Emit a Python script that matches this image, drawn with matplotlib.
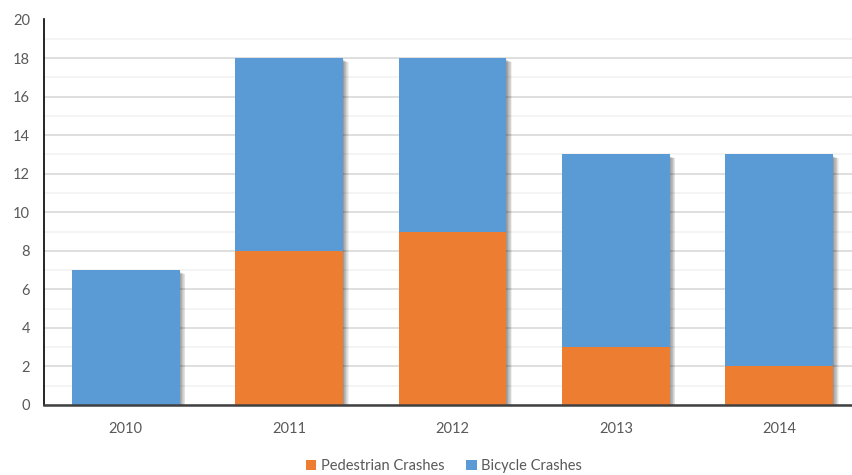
import numpy as np
import matplotlib
matplotlib.use("Agg")
import matplotlib.pyplot as plt
from matplotlib.patches import Rectangle
from matplotlib.ticker import MultipleLocator

years = ["2010", "2011", "2012", "2013", "2014"]
pedestrian = [0, 8, 9, 3, 2]
bicycle = [7, 10, 9, 10, 11]

ped_color = "#ED7D31"
bike_color = "#5B9BD5"
text_color = "#595959"

plt.rcParams["font.family"] = ["Lato", "DejaVu Sans"]

fig = plt.figure(figsize=(8.52, 4.75), dpi=100)
ax = fig.add_axes([44 / 852, 70 / 475, 808 / 852, 385.5 / 475])

x = np.arange(len(years))
width = 0.66
totals = np.array(pedestrian) + np.array(bicycle)

# soft drop shadow behind each stacked bar
for xi, top in zip(x, totals):
    for k in range(8):
        dx = 0.003 + k * 0.0045
        dy = 0.02 + k * 0.02
        ax.add_patch(Rectangle((xi - width / 2 + dx, -dy), width, top - 0.05,
                               facecolor="black", alpha=0.06, lw=0, zorder=2))

ax.bar(x, pedestrian, width, color=ped_color, label="Pedestrian Crashes", zorder=3)
ax.bar(x, bicycle, width, bottom=pedestrian, color=bike_color,
       label="Bicycle Crashes", zorder=3)

ax.set_xlim(-0.5, 4.5 - 9 / 163.4)
ax.set_ylim(0, 20)
ax.yaxis.set_major_locator(MultipleLocator(2))
ax.yaxis.set_minor_locator(MultipleLocator(1))
ax.grid(axis="y", which="major", color="#d9d9d9", lw=1.2, zorder=0)
ax.grid(axis="y", which="minor", color="#f2f2f2", lw=1.2, zorder=0)
ax.set_axisbelow(True)

ax.set_xticks(x)
ax.set_xticklabels(years)
ax.tick_params(axis="both", which="both", length=0, colors=text_color, labelsize=10.5)
ax.tick_params(axis="x", pad=12)
ax.tick_params(axis="y", pad=10)

for side in ["top", "right"]:
    ax.spines[side].set_visible(False)
ax.spines["left"].set_color("black")
ax.spines["left"].set_linewidth(1.2)
ax.spines["bottom"].set_color("#404040")
ax.spines["bottom"].set_linewidth(1.8)
ax.spines["bottom"].set_zorder(4)

fig.legend(loc="center", bbox_to_anchor=(444 / 852, 1 - 466 / 475), ncol=2,
           frameon=False, fontsize=10.5, labelcolor=text_color,
           handlelength=0.7, handleheight=0.7, handletextpad=0.3, columnspacing=1.5)

fig.savefig("out.png", dpi=100)
